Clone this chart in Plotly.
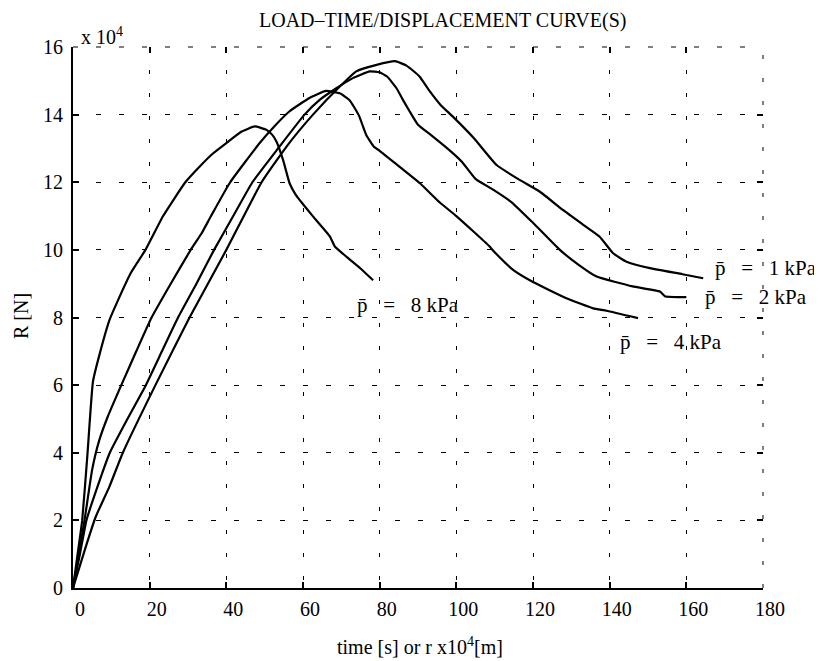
import plotly.graph_objects as go

# ---- data (load in units of 10^4 N) ----
time_8kpa = [0, 1.2, 2.4, 3.8, 5.2, 7.0, 9.6, 11.7, 15.0, 18.9, 23.5, 29.3, 33.0, 36.5, 40.0, 44.0,
             47.4, 50.5, 52.0, 53.1, 54.8, 56.5, 58.0, 59.1, 62.6, 67.0, 68.3, 71.3, 75.0, 78.3]
load_8kpa = [0, 1.0, 2.0, 4.0, 6.1, 6.94, 7.95, 8.5, 9.3, 10.0, 11.0, 12.0, 12.46, 12.85, 13.16, 13.5,
             13.65, 13.55, 13.4, 13.2, 12.66, 11.97, 11.65, 11.48, 10.99, 10.4, 10.1, 9.8, 9.45, 9.1]

time_4kpa = [0, 1.5, 3.0, 5.0, 6.8, 9.0, 12.6, 16.5, 20.5, 25.5, 30.7, 33.6, 36.0, 41.0, 48.7, 52.5,
             56.5, 61.8, 66.0, 69.6, 72.2, 74.6, 76.5, 78.5, 80.0, 84.4, 90.5, 95.7, 100.0, 104.4,
             108.5, 110.0, 114.8, 120.0, 128.7, 135.7, 139.2, 147.4]
load_4kpa = [0, 1.0, 2.0, 3.5, 4.35, 5.05, 6.0, 7.0, 8.0, 9.0, 10.0, 10.5, 11.0, 12.0, 13.16, 13.65,
             14.1, 14.5, 14.7, 14.63, 14.42, 13.97, 13.4, 13.05, 12.93, 12.53, 11.97, 11.4, 11.0, 10.55,
             10.12, 9.93, 9.41, 9.05, 8.57, 8.27, 8.2, 7.98]

time_2kpa = [0, 1.8, 3.5, 6.1, 9.6, 14.2, 19.0, 23.2, 27.4, 32.2, 36.8, 41.8, 46.8, 53.5, 60.4, 64.5,
             68.7, 73.0, 77.4, 80.0, 82.0, 84.4, 86.0, 87.8, 90.0, 93.9, 98.7, 101.5, 105.0, 109.6,
             114.5, 120.0, 127.0, 132.0, 136.6, 146.0, 153.1, 154.4, 160.0]
load_2kpa = [0, 1.0, 2.0, 2.9, 4.0, 5.0, 6.0, 7.0, 8.0, 9.0, 10.0, 11.0, 12.0, 13.0, 14.0, 14.45,
             14.78, 15.08, 15.28, 15.25, 15.12, 14.78, 14.45, 14.1, 13.7, 13.35, 12.9, 12.6, 12.1, 11.78,
             11.4, 10.8, 10.0, 9.55, 9.21, 8.92, 8.77, 8.63, 8.6]

time_1kpa = [0, 3.0, 5.9, 9.5, 13.0, 21.5, 30.4, 40.0, 49.2, 56.0, 62.6, 69.6, 73.9, 79.2, 84.0,
             87.0, 90.4, 93.0, 96.0, 99.1, 104.6, 110.5, 116.5, 121.8, 127.8, 133.0, 137.4, 140.9,
             144.4, 150.5, 159.0, 164.4]
load_1kpa = [0, 1.1, 2.1, 3.0, 4.0, 6.0, 8.0, 10.0, 12.0, 13.1, 14.0, 14.83, 15.28, 15.47, 15.58,
             15.45, 15.13, 14.7, 14.27, 13.94, 13.3, 12.51, 12.07, 11.72, 11.18, 10.75, 10.39, 9.9,
             9.65, 9.46, 9.28, 9.16]

x_ticks = [0, 20, 40, 60, 80, 100, 120, 140, 160, 180]
y_ticks = [0, 2, 4, 6, 8, 10, 12, 14, 16]
pressures = ["1", "2", "4", "8"]
NB = "\u00a0"
curve_labels = ["p\u0304" + NB * 3 + "=" + NB * 3 + p + NB + "kPa" for p in pressures]

FONT = "Liberation Serif, Times New Roman, serif"
OFF = 8  # page body margin
W, H = 822 - OFF, 661 - OFF
L, T = 73 - OFF, 47 - OFF
R = W - (763 - OFF)
B = H - (588 - OFF)
pw, ph = W - L - R, H - T - B

def xp(px):
    return (px - OFF - L) / pw

def yp(py):
    return (H - B - (py - OFF)) / ph

fig = go.Figure()
for xs, ys in [(time_1kpa, load_1kpa), (time_2kpa, load_2kpa), (time_4kpa, load_4kpa), (time_8kpa, load_8kpa)]:
    fig.add_trace(go.Scatter(x=xs, y=ys, mode="lines", showlegend=False,
                             line=dict(color="black", width=2.2, shape="spline", smoothing=0.4),
                             hoverinfo="skip"))
# invisible trace so the mirrored-tick axes are drawn
fig.add_trace(go.Scatter(x=[0], y=[0], xaxis="x2", yaxis="y2", mode="markers",
                         marker=dict(opacity=0), showlegend=False, hoverinfo="skip"))

axis_common = dict(showline=True, linecolor="black", linewidth=2, ticks="inside", ticklen=6,
                   tickwidth=1.5, tickcolor="black", showgrid=True, gridcolor="black", gridwidth=1,
                   zeroline=False, tickfont=dict(family=FONT, size=20, color="black"))

fig.update_layout(
    width=W, height=H,
    margin=dict(l=L, r=R, t=T, b=B),
    paper_bgcolor="white", plot_bgcolor="white",
    font=dict(family=FONT, size=20, color="black"),
    xaxis=dict(range=[0, 180], tickvals=x_ticks, ticktext=[str(v) for v in x_ticks],
               griddash="4px,19px", ticklabelshift=7, ticklabelstandoff=2, **axis_common),
    yaxis=dict(range=[0, 16], tickvals=y_ticks, ticktext=[str(v) for v in y_ticks],
               griddash="5px,18px", ticklabelstandoff=4, **axis_common),
    xaxis2=dict(overlaying="x", side="top", matches="x", range=[0, 180], tickvals=x_ticks,
                showticklabels=False, ticks="inside", ticklen=6, tickwidth=1.5, tickcolor="black",
                showgrid=False, showline=False, zeroline=False),
    yaxis2=dict(overlaying="y", side="right", matches="y", range=[0, 16], tickvals=y_ticks,
                showticklabels=False, ticks="inside", ticklen=6, tickwidth=1.5, tickcolor="black",
                showgrid=False, showline=False, zeroline=False),
    shapes=[
        dict(type="line", xref="paper", yref="paper", x0=0, x1=1, y0=1, y1=1,
             line=dict(color="black", width=1, dash="5px,18px")),
        dict(type="line", xref="paper", yref="paper", x0=1, x1=1, y0=0, y1=1,
             line=dict(color="black", width=1, dash="4px,19px")),
    ],
)

ann = []
ann.append(dict(text="LOAD\u2013TIME/DISPLACEMENT CURVE(S)", xref="paper", yref="paper",
                x=xp(442), y=yp(20), xanchor="center", yanchor="middle", showarrow=False,
                font=dict(family=FONT, size=20)))
ann.append(dict(text="x 10<sup>4</sup>", xref="paper", yref="paper", x=xp(79), y=yp(36),
                xanchor="left", yanchor="middle", showarrow=False, font=dict(family=FONT, size=20)))
ann.append(dict(text="time [s] or r x10<sup>4</sup>[m]", xref="paper", yref="paper", x=xp(420), y=yp(646),
                xanchor="center", yanchor="middle", showarrow=False, font=dict(family=FONT, size=20)))
ann.append(dict(text="R [N]", xref="paper", yref="paper", x=xp(21), y=yp(316), textangle=-90,
                xanchor="center", yanchor="middle", showarrow=False, font=dict(family=FONT, size=20)))
for txt, lx, ly in zip(curve_labels, [166.96, 164.35, 142.17, 73.49], [9.46, 8.61, 7.29, 8.38]):
    ann.append(dict(text=txt, x=lx, y=ly, xref="x", yref="y", xanchor="left", yanchor="middle",
                    showarrow=False, font=dict(family=FONT, size=21)))
fig.update_layout(annotations=ann)

fig.write_html("out.html")
